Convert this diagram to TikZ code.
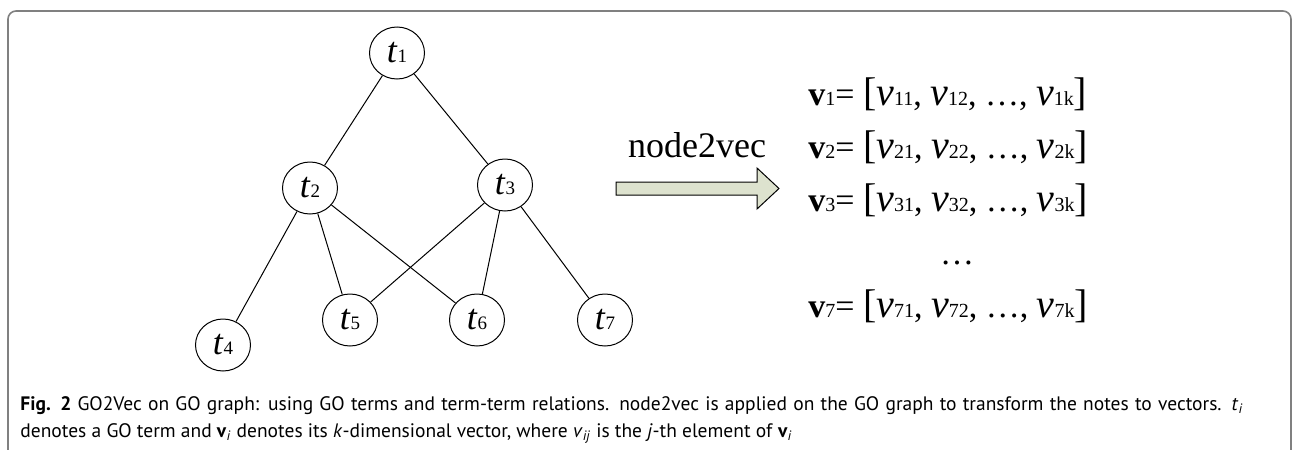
\documentclass[tikz,border=0pt]{standalone}
\usepackage{fontspec}
\setmainfont{Liberation Serif}
\newfontfamily\capfont{PT Sans}
\usetikzlibrary{positioning, shapes.geometric}
\definecolor{arrowfill}{RGB}{221,226,206}
\definecolor{framegray}{RGB}{128,128,128}
\tikzset{term/.style={draw, ellipse, line width=0.5pt, inner sep=0, minimum width=27.5pt, minimum height=26pt, font=\fontsize{18}{18}\selectfont}}
\tikzset{link/.style={draw, line width=0.5pt}}
\tikzset{vecrow/.style={anchor=base west, inner sep=0, font=\fontsize{17}{18}\selectfont}}
\tikzset{blockarr/.style={draw, line width=0.5pt, fill=arrowfill}}
\tikzset{captxt/.style={anchor=base west, inner sep=0, font=\capfont\fontsize{9.75}{11}\selectfont}}
\newcommand{\tsub}[1]{{\fontsize{9.5}{10}\selectfont #1}}
\newcommand{\vsub}[1]{{\fontsize{10}{10}\selectfont #1}}
\newcommand{\term}[1]{\textit{t}\tsub{#1}}
\newcommand{\bigv}{{\fontsize{20}{20}\selectfont\itshape v}}
\newcommand{\brk}[1]{{\fontsize{20}{20}\selectfont #1}}
\newcommand{\vecline}[1]{\textbf{v}\vsub{#1}= \brk{[}\bigv\vsub{#11}, \bigv\vsub{#12}, \ldots, \bigv\vsub{#1k}\brk{]}}

\begin{document}
\begin{tikzpicture}[x=0.5pt, y=-0.5pt]
	\useasboundingbox (0,0) rectangle (1292,450);
	\clip (0,0) rectangle (1292,450);
	\draw[framegray, line width=0.8pt, rounded corners=4pt]
		(8,480) -- (8,11) -- (1291,11) -- (1291,480);
	% GO graph
	\node[term] (t1) at (397,53) {\term{1}};
	\node[term] (t2) at (310,188) {\term{2}};
	\node[term] (t3) at (505,185) {\term{3}};
	\node[term] (t4) at (223,345) {\term{4}};
	\node[term] (t5) at (350,320) {\term{5}};
	\node[term] (t6) at (477,320) {\term{6}};
	\node[term] (t7) at (605,320) {\term{7}};
	\foreach \a/\b in {t1/t2, t1/t3, t2/t4, t2/t5, t2/t6, t3/t5, t3/t6, t3/t7}
		\path[link] (\a) -- (\b);
	% node2vec
	\coordinate (arrtail) at (616,188.5);
	\draw[blockarr] (arrtail) ++(0,-6.5) -- ++(141,0) -- ++(0,-14)
		-- ++(22,20.5) -- ++(-22,20.5) -- ++(0,-14) -- ++(-141,0) -- cycle;
	\node[anchor=base, inner sep=0, font=\fontsize{18}{18}\selectfont] (n2v) at (697,157) {node2vec};
	% vectors
	\node[vecrow] (v1) at (808,105) {\vecline{1}};
	\node[vecrow] (v2) at (808,158) {\vecline{2}};
	\node[vecrow] (v3) at (808,211) {\vecline{3}};
	\node[anchor=base, inner sep=0, font=\fontsize{17}{18}\selectfont] (vdots) at (957,264) {\ldots};
	\node[vecrow] (v7) at (808,317) {\vecline{7}};
	% caption
	\node[captxt] (cap1) at (20,410) {\makebox[611.5pt][s]{\textbf{Fig. 2} GO2Vec on GO graph: using GO terms and term-term relations. node2vec is applied on the GO graph to transform the notes to vectors. \textit{t}\textsubscript{\textit{i}}}};
	\node[captxt] (cap2) at (20,437) {denotes a GO term and \textbf{v}\textsubscript{\textit{i}} denotes its \textit{k}-dimensional vector, where \textit{v}\textsubscript{\textit{ij}} is the \textit{j}-th element of \textbf{v}\textsubscript{\textit{i}}};
\end{tikzpicture}
\end{document}
